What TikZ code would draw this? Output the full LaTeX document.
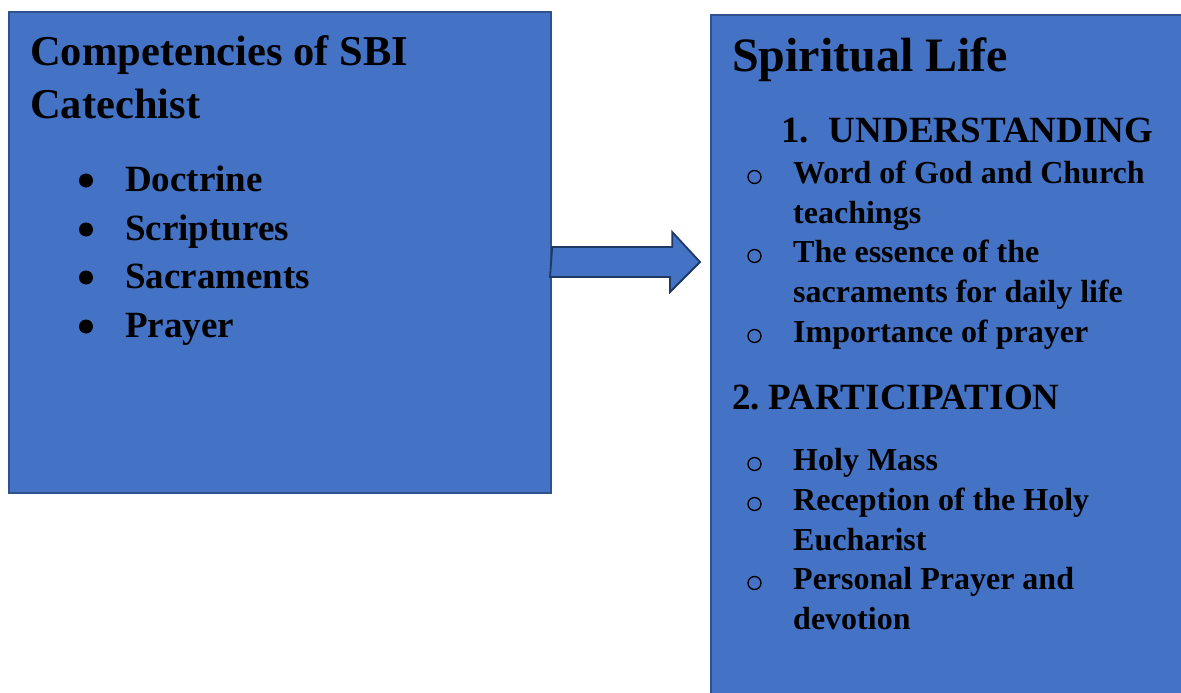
\documentclass[tikz,border=0pt]{standalone}
\usepackage{fontspec}
\setmainfont{Liberation Serif}
\definecolor{boxfill}{HTML}{4472C4}
\definecolor{boxline}{HTML}{2F528F}
\definecolor{arrowline}{HTML}{1F3864}
\begin{document}
\begin{tikzpicture}[x=1pt,y=-1pt,
  box/.style={draw=boxline, fill=boxfill, line width=2.2pt, inner sep=0pt, anchor=north west},
  blockarrow/.style={draw=arrowline, fill=boxfill, line width=1.8pt, line join=miter},
  txt/.style={anchor=base west, inner sep=0pt, font=\bfseries\fontsize{#1}{#1}\selectfont},
  dot/.style={fill=black, draw=none},
  ring/.style={draw=black, line width=1.3pt, fill=none}]
\useasboundingbox (0,0) rectangle (1181,693);
\clip (0,0) rectangle (1181,693);
% boxes
\node[box, minimum width=542pt, minimum height=481pt] (left) at (8,11) {};
\node[box, minimum width=500pt, minimum height=700pt] (right) at (710,14) {};
% block arrow
\coordinate (tip) at (700,262);
\draw[blockarrow] (left.east |- tip) ++(0,-15) -- ++(120,0) -- ++(0,-15) -- (tip)
  -- ++(-30,30) -- ++(0,-15) -- ++(-120,0) -- cycle;
% left text
\node[txt=42.5] (lt1) at (30,66) {Competencies of SBI};
\node[txt=42.5] (lt2) at (30,118) {Catechist};
\foreach \y/\t [count=\i] in {191/Doctrine, 240/Scriptures, 288/Sacraments, 337/Prayer}{
  \node[txt=37] (li\i) at (125,\y) {\t};
  \fill[dot] (86,\y-10.5) circle (7pt);
}
% right text
\node[txt=48] (rt) at (732,72) {Spiritual Life};
\node[txt=37] (h1) at (781,142) {1.\hspace{20pt}UNDERSTANDING};
\node[txt=37] (h2) at (732,409) {2.\hspace{9pt}PARTICIPATION};
\foreach \y/\t [count=\i] in {183/Word of God and Church, 223/teachings, 262/The essence of the, 302/sacraments for daily life, 342/Importance of prayer, 470/Holy Mass, 510/Reception of the Holy, 550/Eucharist, 589/Personal Prayer and, 629/devotion}{
  \node[txt=32] (ri\i) at (793,\y) {\t};
}
\foreach \y in {183,262,342,470,510,589}{
  \draw[ring] (754.5,\y-6) circle (6.5pt);
}
\end{tikzpicture}
\end{document}
